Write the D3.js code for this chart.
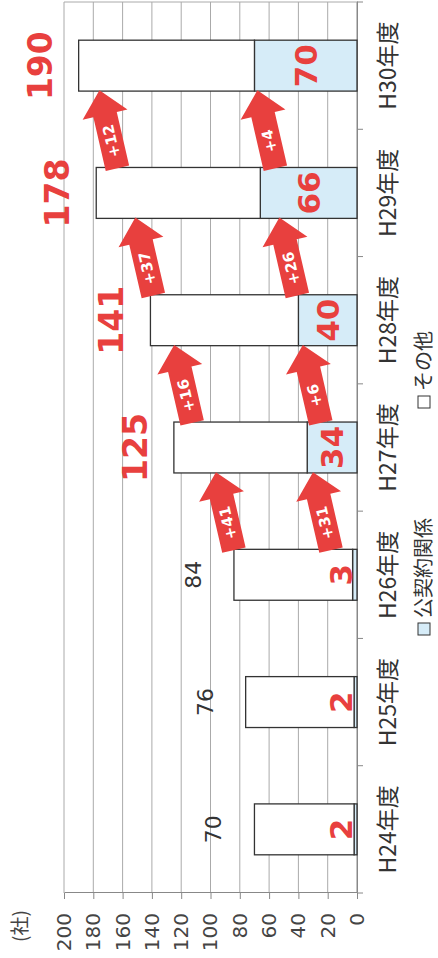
<!DOCTYPE html>
<html>
<head>
<meta charset="utf-8">
<script src="https://cdn.jsdelivr.net/npm/d3@7"></script>
<style>
body { margin: 0; background: #fff; }
svg { display: block; }
</style>
</head>
<body>
<script>
// chart data
const years = ['H24年度', 'H25年度', 'H26年度', 'H27年度', 'H28年度', 'H29年度', 'H30年度']
const totals = [70, 76, 84, 125, 141, 178, 190]
const contract = [2, 2, 3, 34, 40, 66, 70]
const yTicks = [0, 20, 40, 60, 80, 100, 120, 140, 160, 180, 200]
const legendLabels = ['公契約関係', 'その他']
const unitLabel = '(社)'

const W = 438, H = 958
const red = '#e8403e', blue = '#d6ecf8', ink = '#333'
const jp = "'Noto Sans CJK JP', sans-serif"
const num = "'DejaVu Sans', sans-serif"

const svg = d3.select('body').append('svg')
    .attr('width', W)
    .attr('height', H)

// the whole chart is drawn as a normal column chart, then turned on its side
const g = svg.append('g')
    .attr('transform', `translate(0,${H}) rotate(-90)`)

const x = d3.scaleBand()
    .domain(years)
    .range([65, 956])
    .paddingInner(0.6)
    .paddingOuter(0.3)

const y = d3.scaleLinear()
    .domain([0, 200])
    .range([357, 64])

// grid
g.append('g').selectAll('line')
    .data(yTicks).enter()
    .append('line')
    .attr('x1', 65).attr('x2', 956)
    .attr('y1', d => y(d)).attr('y2', d => y(d))
    .attr('stroke', d => d === 0 ? '#888' : '#aaa')
    .attr('stroke-width', 1)

g.append('line')
    .attr('x1', 956).attr('x2', 956)
    .attr('y1', y(200)).attr('y2', y(0))
    .attr('stroke', '#aaa')

// value axis
const yAxis = g.append('g')
    .attr('transform', 'translate(65,0)')
    .call(d3.axisLeft(y).tickValues(yTicks).tickSize(6).tickPadding(14).tickSizeOuter(0))
yAxis.select('.domain').attr('stroke', '#888')
yAxis.selectAll('line').attr('stroke', '#888')
yAxis.selectAll('text')
    .attr('font-family', num)
    .attr('font-size', 20)
    .attr('fill', '#444')

g.append('text')
    .attr('x', 32)
    .attr('y', 27)
    .attr('text-anchor', 'middle')
    .attr('font-family', jp)
    .attr('font-size', 19)
    .attr('fill', '#444')
    .text(unitLabel)

// category axis
const xAxis = g.append('g')
    .attr('transform', `translate(0,${y(0)})`)
    .call(d3.axisBottom(x).tickSize(0).tickSizeOuter(0))
xAxis.select('.domain').attr('stroke', '#888')
xAxis.selectAll('text')
    .attr('y', 39)
    .attr('dy', null)
    .attr('font-family', jp)
    .attr('font-size', 23)
    .attr('fill', ink)

g.append('g').selectAll('line')
    .data(d3.range(years.length + 1)).enter()
    .append('line')
    .attr('x1', k => 65 + k * x.step()).attr('x2', k => 65 + k * x.step())
    .attr('y1', y(0)).attr('y2', y(0) + 6)
    .attr('stroke', '#888')

// bars
const bars = g.append('g')
years.forEach((yr, i) => {
    bars.append('rect')
        .attr('x', x(yr)).attr('width', x.bandwidth())
        .attr('y', y(contract[i])).attr('height', y(0) - y(contract[i]))
        .attr('fill', blue).attr('stroke', ink).attr('stroke-width', 1.3)
    bars.append('rect')
        .attr('x', x(yr)).attr('width', x.bandwidth())
        .attr('y', y(totals[i])).attr('height', y(contract[i]) - y(totals[i]))
        .attr('fill', '#fff').attr('stroke', ink).attr('stroke-width', 1.3)
})

// total labels
g.append('g').selectAll('text')
    .data(totals).enter()
    .append('text')
    .attr('x', (d, i) => x(years[i]) + x.bandwidth() / 2)
    .attr('y', (d, i) => i >= 3 ? y(d) - 27 : y(d) - 33)
    .attr('text-anchor', 'middle')
    .attr('font-family', num)
    .attr('font-weight', (d, i) => i >= 3 ? 'bold' : 'normal')
    .attr('font-size', (d, i) => i >= 3 ? 33 : 22)
    .attr('fill', (d, i) => i >= 3 ? red : ink)
    .text(d => d)

// contract labels
g.append('g').selectAll('text')
    .data(contract).enter()
    .append('text')
    .attr('x', (d, i) => x(years[i]) + x.bandwidth() / 2)
    .attr('y', d => Math.min((y(d) + y(0)) / 2, y(0) - 16))
    .attr('dy', '0.36em')
    .attr('text-anchor', 'middle')
    .attr('font-family', num)
    .attr('font-weight', 'bold')
    .attr('font-size', 31)
    .attr('fill', red)
    .text(d => d)

// growth arrows
const arrowShape = [[-40, -12], [15, -12], [15, -23], [40, 0], [15, 23], [15, 12], [-40, 12]]
const arrows = []
for (let i = 3; i < years.length; i++) {
    arrows.push({ i, prev: totals[i - 1], next: totals[i], off: 21 })
    arrows.push({ i, prev: contract[i - 1], next: contract[i], off: 9 })
}
const arrowG = g.append('g').selectAll('g')
    .data(arrows).enter()
    .append('g')
    .attr('transform', d => {
        const cu = x(years[d.i]) - (x.step() - x.bandwidth()) / 2
        const cv = Math.min((y(d.prev) + y(d.next)) / 2 + d.off, y(0) - 35)
        return `translate(${cu},${cv}) rotate(-13)`
    })
arrowG.append('path')
    .attr('d', d3.line()(arrowShape) + 'Z')
    .attr('fill', red)
arrowG.append('text')
    .attr('x', -12)
    .attr('dy', '0.36em')
    .attr('text-anchor', 'middle')
    .attr('font-family', num)
    .attr('font-weight', 'bold')
    .attr('font-size', 15)
    .attr('fill', '#fff')
    .text(d => '+' + (d.next - d.prev))

// legend
const legendPos = [323, 550]
const legendFill = [blue, '#fff']
legendLabels.forEach((lab, k) => {
    g.append('rect')
        .attr('x', legendPos[k]).attr('y', 418)
        .attr('width', 12).attr('height', 12)
        .attr('fill', legendFill[k]).attr('stroke', ink)
    g.append('text')
        .attr('x', legendPos[k] + 17).attr('y', 431)
        .attr('font-family', jp)
        .attr('font-size', 20)
        .attr('fill', ink)
        .text(lab)
})
</script>
</body>
</html>
